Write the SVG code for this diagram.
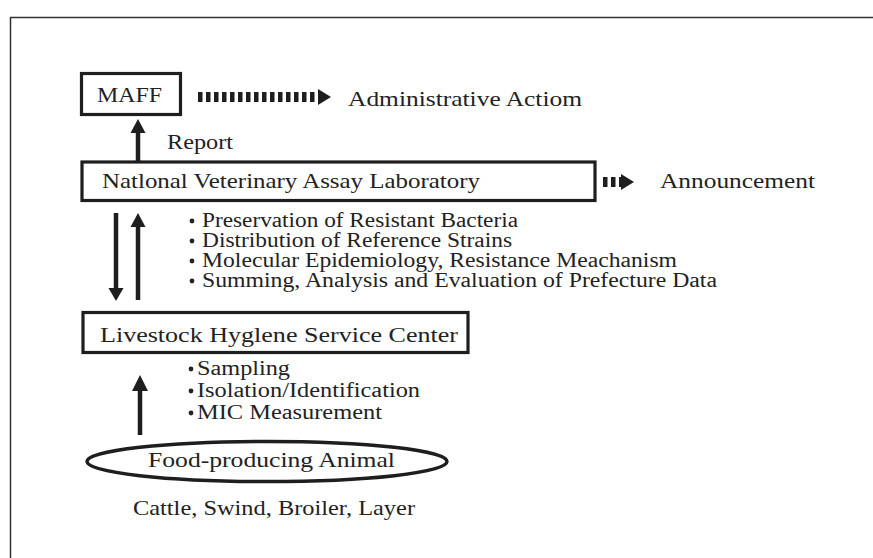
<svg xmlns="http://www.w3.org/2000/svg" width="873" height="558" viewBox="0 0 873 558">
<style>
  .t { font-family: "Liberation Serif", "DejaVu Serif", serif; font-size: 21px; fill: #222; }
  .b { font-size: 20px; }
  .box { fill: #fff; stroke: #1e1e1e; stroke-width: 3.2; }
  .shaft { stroke: #1e1e1e; stroke-width: 4.5; fill: none; }
  .dash { stroke: #1e1e1e; stroke-width: 10; stroke-dasharray: 4.5 3.5; fill: none; }
  .head { fill: #1e1e1e; }
  .dot { fill: #222; }
</style>
<rect width="873" height="558" fill="#fff"/>
<path d="M10.5 560 V17.5 H875" fill="none" stroke="#333" stroke-width="1.5"/>

<g id="connectors">
  <!-- MAFF -> Administrative Action -->
  <line class="dash" x1="198" y1="97" x2="318" y2="97"/>
  <polygon class="head" points="318,89 331,97 318,105"/>
  <!-- NVAL -> MAFF report -->
  <line class="shaft" x1="138" y1="161" x2="138" y2="131"/>
  <polygon class="head" points="130.5,133 138,119 145.5,133"/>
  <!-- NVAL -> Announcement -->
  <line class="dash" x1="603" y1="182" x2="621" y2="182"/>
  <polygon class="head" points="621,174 634,182 621,190"/>
  <!-- NVAL down to LHSC -->
  <line class="shaft" x1="116" y1="213" x2="116" y2="290"/>
  <polygon class="head" points="108.5,288 116,301 123.5,288"/>
  <!-- LHSC up to NVAL -->
  <line class="shaft" x1="138" y1="300" x2="138" y2="224"/>
  <polygon class="head" points="130.5,227 138,213 145.5,227"/>
  <!-- Animal up to LHSC -->
  <line class="shaft" x1="140" y1="435" x2="140" y2="388"/>
  <polygon class="head" points="132,391 140,375 148,391"/>
</g>

<g id="maff">
  <rect class="box" x="81.5" y="73.5" width="99" height="41"/>
  <text class="t" x="97" y="102" font-size="22" textLength="65" lengthAdjust="spacingAndGlyphs">MAFF</text>
</g>

<g id="admin-action">
  <text class="t" x="348" y="106" textLength="234" lengthAdjust="spacingAndGlyphs">Administrative Actiom</text>
</g>

<g id="report-label">
  <text class="t" x="167" y="149" textLength="66" lengthAdjust="spacingAndGlyphs">Report</text>
</g>

<g id="nval">
  <rect class="box" x="82" y="162" width="513" height="38.5"/>
  <text class="t" x="102" y="188" textLength="378" lengthAdjust="spacingAndGlyphs">Natlonal Veterinary Assay Laboratory</text>
</g>

<g id="announcement">
  <text class="t" x="660" y="188" textLength="155" lengthAdjust="spacingAndGlyphs">Announcement</text>
</g>

<g id="nval-tasks">
  <circle class="dot" cx="192" cy="221" r="2.4"/>
  <text class="t b" x="202" y="227" textLength="316" lengthAdjust="spacingAndGlyphs">Preservation of Resistant Bacteria</text>
  <circle class="dot" cx="192" cy="241" r="2.4"/>
  <text class="t b" x="202" y="247" textLength="310" lengthAdjust="spacingAndGlyphs">Distribution of Reference Strains</text>
  <circle class="dot" cx="192" cy="261" r="2.4"/>
  <text class="t b" x="202" y="267" textLength="475" lengthAdjust="spacingAndGlyphs">Molecular Epidemiology, Resistance Meachanism</text>
  <circle class="dot" cx="192" cy="281" r="2.4"/>
  <text class="t b" x="202" y="287" textLength="515" lengthAdjust="spacingAndGlyphs">Summing, Analysis and Evaluation of Prefecture Data</text>
</g>

<g id="lhsc">
  <rect class="box" x="83" y="312.5" width="385" height="40"/>
  <text class="t" x="100" y="342" textLength="358" lengthAdjust="spacingAndGlyphs">Livestock Hyglene Service Center</text>
</g>

<g id="lhsc-tasks">
  <circle class="dot" cx="191" cy="369" r="2.4"/>
  <text class="t b" x="197" y="375" textLength="93" lengthAdjust="spacingAndGlyphs">Sampling</text>
  <circle class="dot" cx="191" cy="391" r="2.4"/>
  <text class="t b" x="197" y="397" textLength="223" lengthAdjust="spacingAndGlyphs">Isolation/Identification</text>
  <circle class="dot" cx="191" cy="413" r="2.4"/>
  <text class="t b" x="197" y="419" textLength="185" lengthAdjust="spacingAndGlyphs">MIC Measurement</text>
</g>

<g id="animal">
  <ellipse cx="267" cy="461.5" rx="180" ry="20" fill="#fff" stroke="#1e1e1e" stroke-width="3.5"/>
  <text class="t" x="148" y="467" textLength="247" lengthAdjust="spacingAndGlyphs">Food-producing Animal</text>
</g>

<g id="animal-types">
  <text class="t" x="133" y="515" textLength="282" lengthAdjust="spacingAndGlyphs">Cattle, Swind, Broiler, Layer</text>
</g>
</svg>
